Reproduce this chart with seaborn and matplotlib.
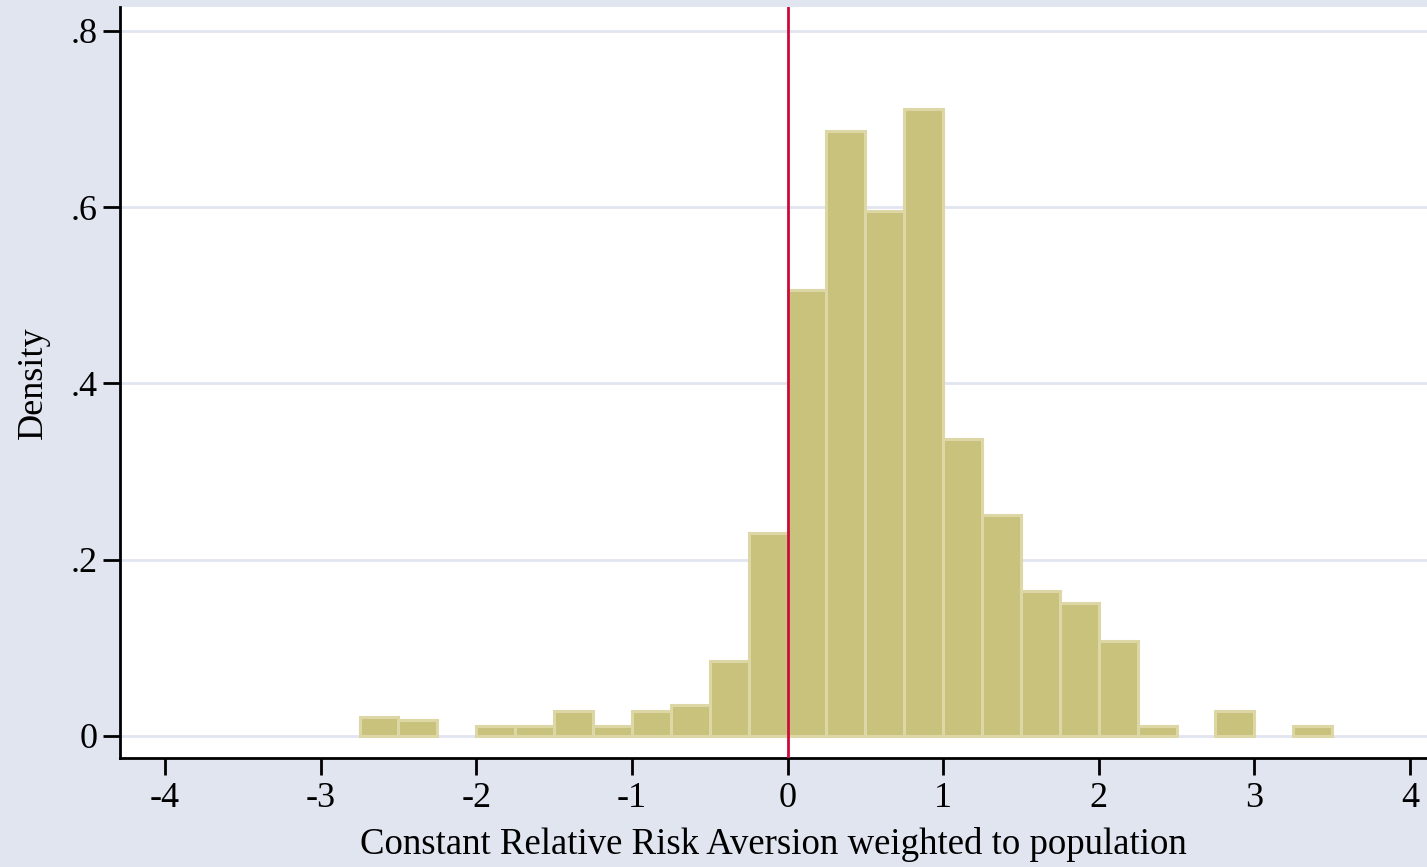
import numpy as np
import pandas as pd
import matplotlib
matplotlib.use("Agg")
import matplotlib.pyplot as plt
import seaborn as sns

# Histogram data (bin width 0.25)
bin_left = [-2.75, -2.5, -2.25, -2.0, -1.75, -1.5, -1.25, -1.0, -0.75, -0.5, -0.25,
            0.0, 0.25, 0.5, 0.75, 1.0, 1.25, 1.5, 1.75, 2.0, 2.25, 2.5, 2.75, 3.0, 3.25]
density = [0.021, 0.018, 0.0, 0.011, 0.011, 0.028, 0.011, 0.028, 0.035, 0.085, 0.230,
           0.506, 0.686, 0.596, 0.712, 0.337, 0.251, 0.165, 0.151, 0.108, 0.011, 0.0, 0.028, 0.0, 0.011]
bin_width = 0.25
ref_line_x = 0
x_ticks = [-4, -3, -2, -1, 0, 1, 2, 3, 4]
y_ticks = [0, 0.2, 0.4, 0.6, 0.8]
y_ticklabels = ["0", ".2", ".4", ".6", ".8"]
xlabel = "Constant Relative Risk Aversion weighted to population"
ylabel = "Density"

df = pd.DataFrame({"x": np.array(bin_left) + bin_width / 2, "w": density})
edges = list(bin_left) + [bin_left[-1] + bin_width]

sns.set_theme(style="white")
plt.rcParams["font.family"] = ["Liberation Serif", "DejaVu Serif"]

BG = "#E0E5F0"
fig = plt.figure(figsize=(14.27, 8.67), dpi=100, facecolor=BG)
ax = fig.add_axes([120 / 1427, 109 / 867, 1 - 120 / 1427, (758 - 7) / 867])
ax.set_facecolor("white")

sns.histplot(data=df, x="x", weights="w", bins=edges, stat="count",
             color="#C9C27D", edgecolor="#DCD7A4", linewidth=2.2, alpha=1.0,
             ax=ax, zorder=2)
for p in ax.patches:
    if p.get_height() <= 0:
        p.set_visible(False)

ax.axvline(ref_line_x, color="#CC0A3A", linewidth=2.0, zorder=3)

ax.set_xlim(-4.289, 4.109)
ax.set_ylim(-0.025, 0.8272)
ax.set_xticks(x_ticks)
ax.set_xticklabels([str(t) for t in x_ticks])
ax.set_yticks(y_ticks)
ax.set_yticklabels(y_ticklabels)

ax.yaxis.grid(True, color="#E1E5F0", linewidth=2.0, zorder=0)
ax.xaxis.grid(False)
ax.set_axisbelow(True)

for s in ["top", "right"]:
    ax.spines[s].set_visible(False)
for s in ["left", "bottom"]:
    ax.spines[s].set_color("black")
    ax.spines[s].set_linewidth(2.0)

ax.tick_params(axis="both", which="major", direction="out", length=12, width=2.0,
               color="black", labelsize=26, labelcolor="black", bottom=True, left=True)
ax.tick_params(axis="x", pad=5)
ax.tick_params(axis="y", pad=4)

ax.set_xlabel(xlabel, fontsize=26.5, color="black", labelpad=9)
ax.set_ylabel(ylabel, fontsize=26, color="black", labelpad=15)

fig.savefig("out.png", dpi=100, facecolor=BG)
